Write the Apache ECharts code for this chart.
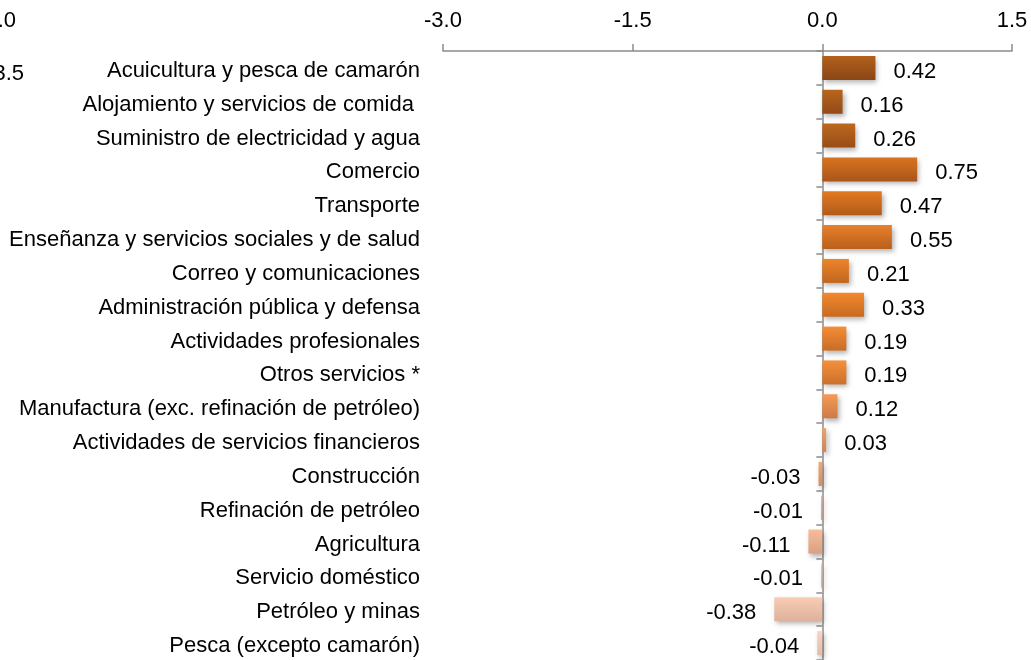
<!DOCTYPE html>
<html>
<head>
<meta charset="utf-8">
<script src="https://cdn.jsdelivr.net/npm/echarts@6/dist/echarts.min.js"></script>
<style>
  html, body { margin: 0; padding: 0; background: #fff; }
  #chart { width: 1031px; height: 660px; }
</style>
</head>
<body>
<div id="chart"></div>
<script>
var sectors = [
  'Acuicultura y pesca de camarón',
  'Alojamiento y servicios de comida ',
  'Suministro de electricidad y agua',
  'Comercio',
  'Transporte',
  'Enseñanza y servicios sociales y de salud',
  'Correo y comunicaciones',
  'Administración pública y defensa',
  'Actividades profesionales',
  'Otros servicios *',
  'Manufactura (exc. refinación de petróleo)',
  'Actividades de servicios financieros',
  'Construcción',
  'Refinación de petróleo',
  'Agricultura',
  'Servicio doméstico',
  'Petróleo y minas',
  'Pesca (excepto camarón)'
]
var values = [0.42, 0.16, 0.26, 0.75, 0.47, 0.55, 0.21, 0.33, 0.19, 0.19, 0.12, 0.03, -0.03, -0.01, -0.11, -0.01, -0.38, -0.04]
var axisTicks = [-3.0, -1.5, 0.0, 1.5]

// top / bottom of each bar gradient
var barColors = [
  ['#b3601c', '#8a4616'],
  ['#b8651e', '#934a17'],
  ['#bd681e', '#984d18'],
  ['#d9741f', '#aa5519'],
  ['#e27a21', '#b25a1a'],
  ['#e8802a', '#b95f1c'],
  ['#ee852a', '#c0661e'],
  ['#f3892c', '#c76a22'],
  ['#f58d33', '#c96c27'],
  ['#f5903a', '#cb702c'],
  ['#f59a55', '#cf7a45'],
  ['#f4a065', '#d2834f'],
  ['#f5a874', '#d48d60'],
  ['#f6b080', '#d7957a'],
  ['#f7bc98', '#d9a085'],
  ['#f8c2a2', '#dba790'],
  ['#f9ccb3', '#ddb19c'],
  ['#fad5c2', '#e0bca9']
]

var font = '"Liberation Sans Narrow", "Liberation Sans", Arial, sans-serif'
var fsize = 22

var chart = echarts.init(document.getElementById('chart'))

var barData = values.map(function(v, i) {
  return {
    value: v,
    itemStyle: {
      color: new echarts.graphic.LinearGradient(0, 0, 0, 1, [
        { offset: 0, color: barColors[i][0] },
        { offset: 1, color: barColors[i][1] }
      ])
    },
    label: { position: v < 0 ? 'left' : 'right' }
  }
})

chart.setOption({
  animation: false,
  textStyle: { fontFamily: font },
  grid: {
    left: 443,
    top: 51,
    width: 569,
    height: 612
  },
  xAxis: {
    type: 'value',
    position: 'top',
    min: axisTicks[0],
    max: axisTicks[axisTicks.length - 1],
    interval: 1.5,
    axisLine: { show: true, lineStyle: { color: '#8c8c8c', width: 1.5 } },
    axisTick: { show: true, length: 7, lineStyle: { color: '#8c8c8c', width: 1.5 } },
    splitLine: { show: false },
    axisLabel: {
      margin: 19,
      fontSize: fsize,
      color: '#000',
      fontFamily: font,
      formatter: function(v) { return v.toFixed(1) }
    }
  },
  yAxis: [
    {
      type: 'category',
      inverse: true,
      data: sectors,
      axisLine: { onZero: true, lineStyle: { color: '#8c8c8c', width: 1.5 } },
      axisTick: { show: true, length: 6, lineStyle: { color: '#8c8c8c', width: 1.5 } },
      axisLabel: { show: false }
    },
    {
      type: 'category',
      inverse: true,
      position: 'left',
      data: sectors,
      axisLine: { show: false, onZero: false },
      axisTick: { show: false },
      axisLabel: {
        margin: 23,
        formatter: function(v) { return '{t|' + v + '}' },
        rich: {
          t: {
            fontSize: fsize,
            color: '#000',
            fontFamily: font,
            padding: [6, 0, 0, 0]
          }
        }
      }
    }
  ],
  series: [{
    type: 'bar',
    yAxisIndex: 0,
    barWidth: 24,
    data: barData,
    itemStyle: {
      shadowBlur: 5,
      shadowOffsetX: 2,
      shadowOffsetY: 3,
      shadowColor: 'rgba(0,0,0,0.3)'
    },
    label: {
      show: true,
      distance: 18,
      offset: [0, 4],
      fontSize: fsize,
      color: '#000',
      fontFamily: font,
      formatter: function(p) { return p.value.toFixed(2) }
    }
  }],
  graphic: [
    { type: 'text', right: 1015, top: 10, style: { text: '4.0', font: fsize + 'px ' + font, fill: '#000' } },
    { type: 'text', right: 1007, top: 63, style: { text: '3.5', font: fsize + 'px ' + font, fill: '#000' } }
  ]
})
</script>
</body>
</html>
